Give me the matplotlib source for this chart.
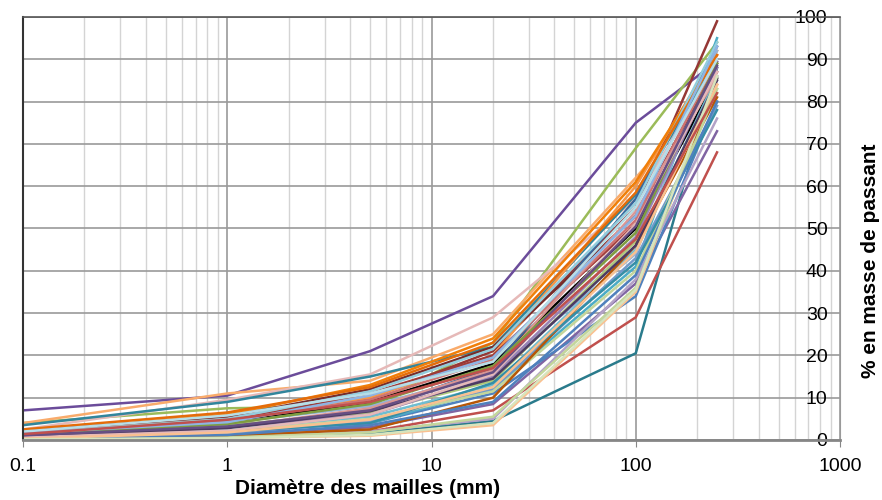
import numpy as np
import matplotlib
matplotlib.use('Agg')
import matplotlib.pyplot as plt
from matplotlib.ticker import LogLocator, NullFormatter, FixedLocator

plt.rcParams['font.family'] = ['Liberation Sans', 'DejaVu Sans']

# mesh sizes (mm)
mesh = [0.1, 1, 5, 20, 100, 250]

# % passing for each sample
curves = [
    [7.0, 10.5, 21.0, 34.0, 75.0, 89.5],
    [4.0, 7.5, 8.0, 23.0, 69.0, 94.0],
    [4.0, 11.0, 14.0, 25.0, 62.0, 84.0],
    [2.5, 9.5, 15.5, 29.0, 57.0, 88.0],
    [3.5, 9.0, 15.0, 22.0, 58.0, 90.0],
    [0.3, 0.5, 1.5, 4.5, 20.5, 88.0],
    [0.5, 1.0, 2.0, 7.0, 29.0, 68.0],
    [0.5, 3.5, 10.0, 21.0, 55.0, 99.0],
    [0.5, 1.5, 3.0, 8.5, 37.0, 73.0],
    [1.0, 2.0, 4.0, 11.0, 34.0, 80.0],
    [0.2, 0.5, 1.0, 3.5, 35.0, 84.0],
    [0.3, 0.8, 2.0, 5.0, 38.0, 76.0],
    [1.0, 4.0, 9.0, 18.0, 50.0, 85.5],
    [2.0, 5.0, 10.0, 20.0, 60.0, 92.0],
    [0.5, 3.0, 7.0, 17.0, 57.0, 93.0],
    [1.0, 2.0, 4.0, 12.0, 41.0, 95.0],
    [2.0, 6.0, 13.0, 24.0, 61.0, 91.0],
    [1.5, 4.0, 8.0, 16.0, 44.0, 92.0],
    [0.8, 4.5, 11.0, 20.0, 51.0, 87.0],
    [1.2, 3.5, 6.5, 14.0, 47.0, 83.0],
    [0.6, 2.5, 5.5, 13.0, 45.0, 86.0],
    [2.2, 5.5, 12.0, 22.0, 53.0, 89.0],
    [0.4, 1.5, 4.5, 12.0, 43.0, 79.0],
    [1.8, 4.5, 9.5, 19.0, 52.0, 90.0],
    [0.7, 2.0, 5.0, 11.5, 40.0, 82.0],
    [1.0, 3.0, 6.0, 15.0, 48.0, 88.0],
    [0.3, 1.0, 2.5, 10.0, 46.0, 81.0],
    [1.5, 5.0, 11.5, 21.5, 56.0, 94.0],
    [0.9, 3.0, 7.5, 16.5, 54.0, 86.0],
    [0.5, 2.0, 4.0, 13.5, 42.0, 78.0],
    [2.5, 6.5, 12.5, 23.0, 58.5, 91.0],
    [0.2, 0.6, 1.8, 5.5, 36.0, 83.0],
    [1.3, 3.8, 8.5, 17.5, 49.0, 89.0],
    [0.8, 2.8, 6.8, 14.5, 46.0, 85.0],
    [0.4, 1.2, 3.5, 9.0, 39.0, 80.0],
    [1.6, 4.2, 10.5, 19.5, 53.0, 93.0],
    [0.6, 2.2, 6.0, 15.5, 51.0, 87.0],
    [2.0, 5.8, 11.0, 18.5, 55.0, 90.0],
    [0.3, 1.8, 4.8, 12.5, 44.5, 84.0],
    [1.1, 3.2, 7.0, 16.0, 50.5, 88.5],
    [0.2, 0.4, 1.2, 4.0, 35.5, 86.0],
    [1.4, 4.8, 9.0, 17.0, 47.5, 82.0],
]

colors = [
    '#6B4C9A', '#9BBB59', '#F9AB6B', '#E6B9B8', '#31859C', '#2A7B8C',
    '#C0504D', '#953735', '#8064A2', '#4F81BD', '#FAC090', '#B3A2C7',
    '#000000', '#F79646', '#3A679C', '#4BACC6', '#F07F09', '#95B3D7',
    '#9F3B38', '#AFC97A', '#6FBDD1', '#772C2A', '#729ACA', '#CD7371',
    '#C3D69B', '#9983B5', '#B65708', '#93CDDD', '#D99694', '#358EA6',
    '#E46C0A', '#C3D69B', '#7E9D40', '#4D3B62', '#4F81BD', '#8EB4E3',
    '#E6B9B8', '#B7DEE8', '#FAC090', '#664F83', '#D7E4BD', '#C0504D',
]

fig = plt.figure(figsize=(8.82, 5.0), dpi=100)
ax = fig.add_axes([23 / 882, 60 / 500, (840 - 23) / 882, (440 - 17) / 500])

for vals, c in zip(curves, colors):
    ax.plot(mesh, vals, color=c, lw=1.8, solid_joinstyle='miter')

ax.set_xscale('log')
ax.set_xlim(0.1, 1000)
ax.set_ylim(0, 100)

ax.xaxis.set_minor_locator(LogLocator(base=10, subs=np.arange(2, 10), numticks=10))
ax.xaxis.set_minor_formatter(NullFormatter())
ax.set_xticks([0.1, 1, 10, 100, 1000])
ax.set_xticklabels(['0.1', '1', '10', '100', '1000'])
ax.yaxis.set_major_locator(FixedLocator(np.arange(0, 101, 10)))

ax.grid(which='major', axis='both', color='#9A9A9A', lw=1.2)
ax.grid(which='minor', axis='x', color='#D4D4D4', lw=1.0)
ax.set_axisbelow(True)

ax.yaxis.tick_right()
ax.tick_params(axis='y', which='major', direction='in', length=0, pad=-9, labelsize=14)
for lab in ax.get_yticklabels():
    lab.set_horizontalalignment('right')
ax.tick_params(axis='x', which='major', direction='out', length=5, color='#868686', labelsize=14, pad=8)
ax.tick_params(axis='x', which='minor', length=0)

ax.spines['left'].set_color('#333333')
ax.spines['left'].set_linewidth(1.5)
ax.spines['top'].set_color('#555555')
ax.spines['top'].set_linewidth(1.2)
ax.spines['right'].set_color('#9A9A9A')
ax.spines['bottom'].set_color('#868686')
ax.spines['bottom'].set_linewidth(2)

fig.text(368 / 882, 1 - 488 / 500, 'Diamètre des mailles (mm)', fontsize=15,
         fontweight='bold', ha='center', va='center')
fig.text(870 / 882, 1 - 261 / 500, '% en masse de passant', fontsize=15,
         fontweight='bold', ha='center', va='center', rotation=90)

fig.savefig('out.png', dpi=100)
